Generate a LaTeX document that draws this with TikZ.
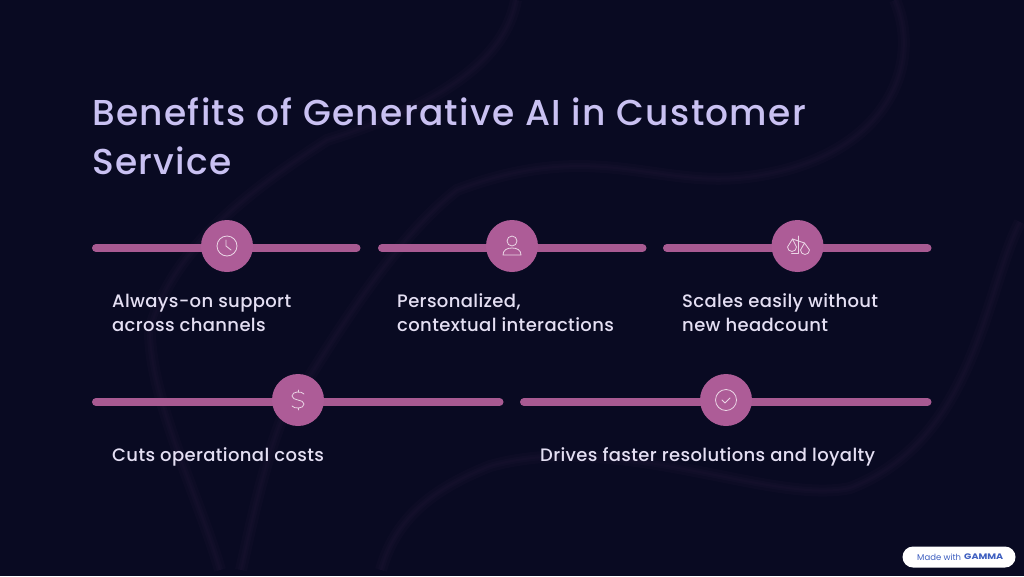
\documentclass[tikz,border=0pt]{standalone}
\usepackage{fontspec}
\setmainfont{Poppins}
\newfontfamily\mediumfont{Poppins Medium}
\usetikzlibrary{calc}
\definecolor{slidebg}{HTML}{090A22}
\definecolor{swirl}{HTML}{1E1634}
\definecolor{titlecol}{HTML}{C9C1F2}
\definecolor{bodycol}{HTML}{E4DFF3}
\definecolor{barcol}{HTML}{A85A92}
\definecolor{badgecol}{HTML}{AD5C97}
\definecolor{iconcol}{HTML}{EBD6E6}
\definecolor{gammacol}{HTML}{3E5FC0}
\tikzset{
  bar/.style={line width=8pt, barcol, line cap=round},
  badge/.style={circle, fill=badgecol, minimum size=52pt, inner sep=0pt},
  icon/.style={draw=iconcol, line width=0.8pt, line cap=round, line join=round},
  glow/.style={swirl, line width=#1, opacity=0.22},
  title/.style={anchor=base west, inner sep=0pt, text=titlecol, font=\mediumfont\fontsize{36}{36}\selectfont\addfontfeature{LetterSpace=3.6}},
  benefit/.style={anchor=base west, inner sep=0pt, text=bodycol, font=\mediumfont\fontsize{18}{24}\selectfont\addfontfeature{LetterSpace=2}, align=left}
}
\begin{document}
\begin{tikzpicture}[x=1pt,y=-1pt]

    \coordinate (width)  at (1024,0);
    \coordinate (height) at (0,576);

    \fill[slidebg] (0,0) rectangle (width |- height);
    \useasboundingbox (0,0) rectangle (width |- height);

    % faint background swirls
    \foreach \w in {2,6,12} {
      \draw[glow=\w pt] (516,0) .. controls (505,60) and (440,105) .. (327,140) .. controls (250,190) and (170,250) .. (150,331) .. controls (150,400) and (200,500) .. (220,570);
      \draw[glow=\w pt] (895,0) .. controls (925,70) and (880,165) .. (738,178) .. controls (650,185) and (590,140) .. (457,190) .. controls (380,250) and (310,380) .. (281,421) .. controls (262,470) and (250,530) .. (241,570);
      \draw[glow=\w pt] (1020,222) .. controls (985,290) and (975,440) .. (850,488) .. controls (770,505) and (620,430) .. (490,466) .. controls (430,490) and (395,520) .. (381,570);
    }

    % bars
    \coordinate (bar 1 left)  at (96,248);
    \coordinate (bar 1 right) at (356.5,248);
    \coordinate (bar 2 left)  at (382,248);
    \coordinate (bar 2 right) at (642.5,248);
    \coordinate (bar 3 left)  at (667,248);
    \coordinate (bar 3 right) at (927.5,248);
    \coordinate (bar 4 left)  at (96,402);
    \coordinate (bar 4 right) at (499.5,402);
    \coordinate (bar 5 left)  at (524,402);
    \coordinate (bar 5 right) at (927.5,402);

    \foreach \x in {1,...,5}
    \draw[bar] (bar \x\space left) -- (bar \x\space right);

    \node[badge] (clock)  at (227,246) {};
    \node[badge] (person) at (512,246) {};
    \node[badge] (scales) at (797.5,246) {};
    \node[badge] (dollar) at (298,400) {};
    \node[badge] (check)  at (726,400) {};

    % icons
    \draw[icon] (clock) circle (10);
    \draw[icon] ($(clock)+(-1,-6)$) -- ($(clock)+(-1,0)$) -- ($(clock)+(4,4)$);

    \draw[icon] ($(person)+(0,-5)$) circle (5);
    \draw[icon] ($(person)+(-9,9)$) .. controls ($(person)+(-9,4)$) and ($(person)+(-5,2)$) .. ($(person)+(0,2)$)
      .. controls ($(person)+(5,2)$) and ($(person)+(9,4)$) .. ($(person)+(9,9)$) -- cycle;

    \draw[icon] ($(scales)+(-5,-7)$) -- ($(scales)+(7,-3)$);
    \draw[icon] ($(scales)+(1,-10)$) -- ($(scales)+(1,7)$) -- ($(scales)+(-6,7)$);
    \draw[icon] ($(scales)+(-5,-7)$) -- ($(scales)+(-10,1)$) arc[start angle=180, end angle=0, radius=4.5] -- cycle;
    \draw[icon] ($(scales)+(7,-3)$) -- ($(scales)+(3,4)$) arc[start angle=180, end angle=0, radius=4.5] -- cycle;

    \draw[icon] ($(dollar)+(6,-6)$) .. controls ($(dollar)+(4,-9)$) and ($(dollar)+(-6,-9)$) .. ($(dollar)+(-6,-4)$)
      .. controls ($(dollar)+(-6,1)$) and ($(dollar)+(6,-1)$) .. ($(dollar)+(6,4)$)
      .. controls ($(dollar)+(6,9)$) and ($(dollar)+(-4,9)$) .. ($(dollar)+(-6,6)$);
    \draw[icon] ($(dollar)+(0,-10)$) -- ($(dollar)+(0,-8)$);
    \draw[icon] ($(dollar)+(0,8)$) -- ($(dollar)+(0,10)$);

    \draw[icon] (check) circle (10.5);
    \draw[icon] ($(check)+(-4,0)$) -- ($(check)+(-1,3)$) -- ($(check)+(4,-2)$);

    % texts
    \node[title] (title 1) at (92,125) {Benefits of Generative AI in Customer};
    \node[title] (title 2) at (92,174) {Service};

    \node[benefit] (always)   at (112,331) {Always-on support\\across channels};
    \node[benefit] (personal) at (397,331) {Personalized,\\contextual interactions};
    \node[benefit] (scale)    at (682,331) {Scales easily without\\new headcount};
    \node[benefit] (cuts)     at (112,461) {Cuts operational costs};
    \node[benefit] (drives)   at (540,461) {Drives faster resolutions and loyalty};

    % made with gamma
    \node[fill=white, rounded corners=10.5pt, minimum width=113pt, minimum height=21pt, inner sep=0pt] (pill) at (959,557) {};
    \node[anchor=west, inner sep=0pt, text=gammacol, font=\fontsize{8.5}{9}\selectfont] (made) at (917,557) {Made with};
    \node[anchor=west, inner sep=0pt, text=gammacol, font=\fontsize{8}{9}\selectfont\bfseries\addfontfeature{FakeStretch=1.2}] (gamma) at (964,557) {GAMMA};

\end{tikzpicture}
\end{document}
